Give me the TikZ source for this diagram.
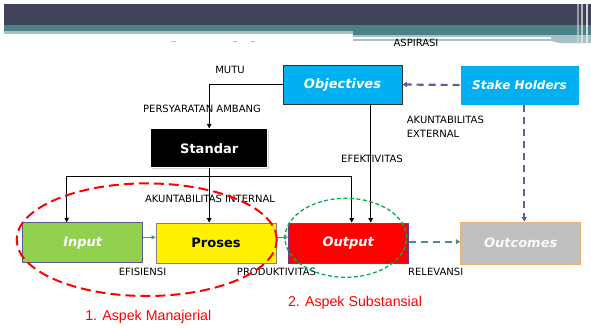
\documentclass[tikz,border=0pt]{standalone}
\usepackage{fontspec}
\setmainfont{DejaVu Sans}
\newfontfamily\arialf{Liberation Sans}
\usetikzlibrary{arrows.meta,shadows}
\definecolor{hdark}{HTML}{41435A}
\definecolor{hteal}{HTML}{4A8287}
\definecolor{hlight}{HTML}{A6C1C4}
\definecolor{cyanbox}{HTML}{00B0F0}
\definecolor{greenbox}{HTML}{92D050}
\definecolor{redbox}{HTML}{FF0000}
\definecolor{greybox}{HTML}{BFBFBF}
\definecolor{tealarr}{HTML}{4F8A8B}
\definecolor{purparr}{HTML}{5F5F9A}
\definecolor{ellgreen}{HTML}{00B050}
\tikzset{
  box/.style={rectangle, inner sep=0pt, minimum width=120pt, minimum height=40pt, line width=0.8pt, font=\fontsize{13}{15}\selectfont\bfseries},
  itbox/.style={box, font=\fontsize{13}{15}\selectfont\bfseries\itshape, text=white},
  shad/.style={drop shadow={opacity=0.35, shadow xshift=1.2pt, shadow yshift=-1.2pt}},
  lbl/.style={font=\fontsize{10}{14}\selectfont, inner sep=0pt},
  redlbl/.style={font=\arialf\fontsize{14.2}{16}\selectfont, text=red, inner sep=0pt},
  conn/.style={line width=1.4pt, -{Triangle[length=4.5pt,width=4.5pt]}},
  tconn/.style={line width=1.4pt, tealarr, -{Triangle[length=4pt,width=4pt]}},
  pdash/.style={line width=2.2pt, purparr, dash pattern=on 7pt off 5pt, -{Triangle[length=4.5pt,width=5pt]}},
  tdash/.style={line width=2.2pt, tealarr, dash pattern=on 7pt off 5pt, -{Triangle[length=4.5pt,width=5pt]}},
}
\begin{document}
\begin{tikzpicture}[x=1pt,y=-1pt]
\useasboundingbox (0,0) rectangle (591,327);
\fill[white] (0,0) rectangle (591,327);
% header
\fill[hdark] (4,4) rectangle (591,25);
\fill[hteal] (4,25) rectangle (591,31);
\fill[hlight] (4,31) rectangle (353,34);
\fill[hteal] (353,31) rectangle (591,35);
\fill[hlight] (353,35) rectangle (591,37);
\fill[hlight] (353,38.5) rectangle (551,41);
\fill[hlight] (551,37) -- (591,37) -- (591,43) -- (560,43) -- (551,41) -- cycle;
\fill[white!70!gray, opacity=0.6] (577,4) rectangle (579,44);
\fill[white!85!gray, opacity=0.7] (581,4) rectangle (583,44);
\fill[white!90!gray, opacity=0.8] (586,4) rectangle (588,44);
\draw[gray!50, line width=0.8pt] (171,41.5) -- (176,41.5);
\draw[gray!50, line width=0.8pt] (233,41.5) -- (237,41.5);
\draw[gray!50, line width=0.8pt] (251,41.5) -- (255,41.5);

% nodes
\node[itbox, fill=cyanbox, draw=black!80, minimum width=119pt, minimum height=39pt] (obj) at (342.5,84.5) {Objectives};
\node[itbox, fill=cyanbox, draw=white, shad, minimum width=119pt, font=\fontsize{12}{14}\selectfont\bfseries\itshape] (sh) at (519.5,85) {Stake Holders};
\node[box, fill=black, draw=white, text=white, shad, minimum width=117pt, minimum height=39pt] (std) at (209.2,148.3) {Standar};
\node[itbox, fill=greenbox, draw=black!30!blue!30!gray] (in) at (82.7,242.7) {Input};
\node[box, fill=yellow, draw=gray, text=black] (pro) at (216,243) {Proses};
\node[itbox, fill=redbox, draw=violet!60!gray] (out) at (348.3,243) {Output};
\node[itbox, fill=greybox, draw=orange!55!brown!60, text=white!95!gray, minimum height=42pt] (oc) at (520.7,243) {Outcomes};

% labels
\node[lbl] (lmutu) at (230,70) {MUTU};
\node[lbl] (lpers) at (202,109) {PERSYARATAN AMBANG};
\node[lbl] (lefek) at (372,159) {EFEKTIVITAS};
\node[lbl, anchor=west, align=left] (lext) at (406.7,127) {AKUNTABILITAS\\EXTERNAL};
\node[lbl] (lasp) at (416,42.7) {ASPIRASI};
\node[lbl] (lint) at (210,199) {AKUNTABILITAS INTERNAL};
\node[lbl] (lefi) at (142.5,271.7) {EFISIENSI};
\node[lbl] (lprod) at (276.5,271.7) {PRODUKTIVITAS};
\node[lbl] (lrel) at (435.7,271.5) {RELEVANSI};
\node[redlbl] (lman) at (148.3,316.7) {1. Aspek Manajerial};
\node[redlbl] (lsub) at (355,303.3) {2. Aspek Substansial};

% connectors
\coordinate (cE) at (370.7,0);
\coordinate (cSH) at (524.3,0);
\coordinate (bus) at (209.2,176.7);
\coordinate (cIn) at (66.7,0);
\coordinate (cOut) at (351.7,0);
\draw[conn] (obj.west) -| (std.north);
\draw[conn] (obj.south -| cE) -- (out.north -| cE);
\draw[line width=1.4pt] (std.south) -- (bus);
\draw[conn] (bus) -| (in.north -| cIn);
\draw[conn] (bus) -- (pro.north -| bus);
\draw[conn] (bus) -| (out.north -| cOut);
\draw[pdash] (sh.west) -- (obj.east);
\draw[pdash] (sh.south -| cSH) -- (oc.north -| cSH);
\draw[tconn] ([yshift=5.4pt]in.east) -- ([yshift=5.4pt]in.east -| pro.west);
\draw[tconn] ([yshift=5.7pt]pro.east) -- ([yshift=5.7pt]pro.east -| out.west);
\draw[tdash] ([yshift=1.3pt]out.east) -- ([yshift=1.3pt]out.east -| oc.west);

% ellipses
\draw[red, line width=2pt, dash pattern=on 10pt off 5pt] (146.7,239.7) ellipse [x radius=130pt, y radius=56.3pt];
\draw[ellgreen, line width=1.3pt, dash pattern=on 4pt off 2.5pt] (345.8,237.8) ellipse [x radius=60.8pt, y radius=39.5pt];
\end{tikzpicture}
\end{document}
